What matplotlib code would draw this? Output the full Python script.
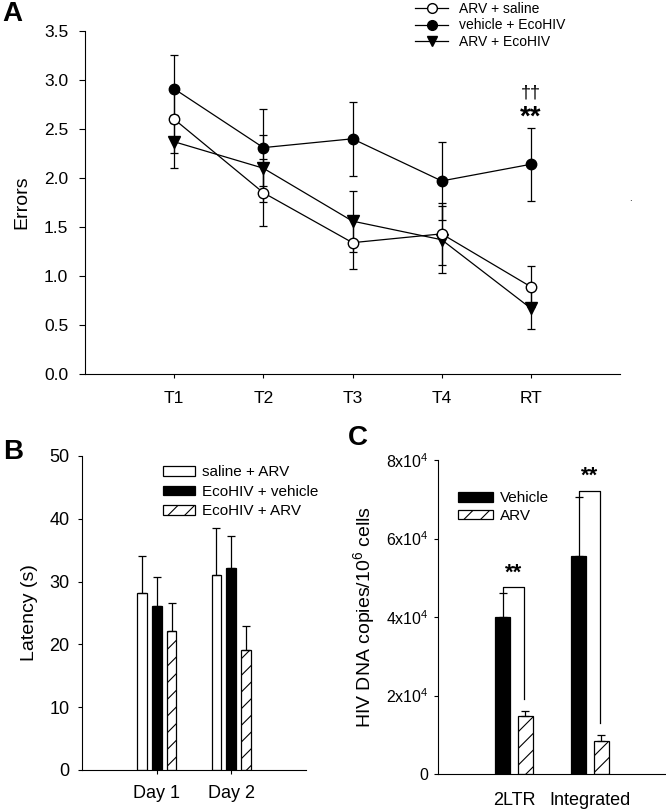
import numpy as np
import matplotlib
matplotlib.use("Agg")
import matplotlib.pyplot as plt
from matplotlib.lines import Line2D

plt.rcParams['font.family'] = ['Liberation Sans', 'DejaVu Sans']
plt.rcParams['mathtext.fontset'] = 'custom'
plt.rcParams['mathtext.rm'] = 'Liberation Sans'
plt.rcParams['mathtext.default'] = 'regular'
plt.rcParams['hatch.linewidth'] = 0.8

# Panel A : errors per trial
trials = ['T1', 'T2', 'T3', 'T4', 'RT']
arv_saline = [2.60, 1.85, 1.34, 1.43, 0.89]
arv_saline_err = [0.34, 0.34, 0.27, 0.32, 0.21]
veh_eco = [2.91, 2.31, 2.40, 1.97, 2.14]
veh_eco_err = [0.35, 0.39, 0.38, 0.40, 0.37]
arv_eco = [2.37, 2.10, 1.56, 1.37, 0.67]
arv_eco_err = [0.27, 0.34, 0.31, 0.34, 0.21]

# Panel B : latency
days = ['Day 1', 'Day 2']
saline_arv = [28.2, 31.0]
saline_arv_err = [5.9, 7.5]
eco_veh = [26.1, 32.1]
eco_veh_err = [4.6, 5.2]
eco_arv = [22.1, 19.1]
eco_arv_err = [4.5, 3.8]

# Panel C : HIV DNA copies
dna_types = ['2LTR', 'Integrated']
dna_vehicle = [40000, 55500]
dna_vehicle_err = [6100, 15100]
dna_arv = [14800, 8400]
dna_arv_err = [1200, 1500]

fig = plt.figure(figsize=(6.66, 8.09), dpi=100)

# ---------------- A ----------------
axA = fig.add_axes([85/666, 1-374/809, (620-85)/666, (374-31)/809])
x = np.arange(1, len(trials) + 1)
lw = 0.9
axA.errorbar(x, veh_eco, yerr=veh_eco_err, color='black', lw=lw, marker='o',
             ms=7.5, mfc='black', mec='black', capsize=3.2, elinewidth=lw, capthick=lw, zorder=3)
axA.errorbar(x, arv_saline, yerr=arv_saline_err, color='black', lw=lw, marker='o',
             ms=7.5, mfc='white', mec='black', capsize=3.2, elinewidth=lw, capthick=lw, zorder=4)
axA.errorbar(x, arv_eco, yerr=arv_eco_err, color='black', lw=lw, marker='v',
             ms=8, mfc='black', mec='black', capsize=3.2, elinewidth=lw, capthick=lw, zorder=3)
axA.set_xlim(0, 6)
axA.set_ylim(0, 3.5)
axA.set_xticks(x)
axA.set_xticklabels(trials)
axA.set_yticks(np.arange(0, 3.51, 0.5))
axA.set_yticklabels([f'{v:.1f}' for v in np.arange(0, 3.51, 0.5)])
axA.tick_params(axis='x', length=3, width=0.8, pad=9, labelsize=12.5)
axA.tick_params(axis='y', length=4, width=0.8, pad=8, labelsize=12.5)
axA.spines['top'].set_visible(False)
axA.spines['right'].set_visible(False)
axA.set_ylabel('Errors', fontsize=14, labelpad=10)
axA.text(5, 2.87, '\u2020\u2020', ha='center', va='center', fontsize=13)
axA.text(5, 2.62, '**', ha='center', va='center', fontsize=20, fontweight='bold')

hA = [Line2D([], [], color='black', lw=lw, marker='o', ms=7, mfc='white', mec='black'),
      Line2D([], [], color='black', lw=lw, marker='o', ms=7, mfc='black', mec='black'),
      Line2D([], [], color='black', lw=lw, marker='v', ms=7.5, mfc='black', mec='black')]
fig.legend(hA, ['ARV + saline', 'vehicle + EcoHIV', 'ARV + EcoHIV'],
           loc='upper left', bbox_to_anchor=(415/666, 0.998), frameon=False,
           fontsize=10, handlelength=2.4, handletextpad=0.75, labelspacing=0.2,
           borderpad=0, borderaxespad=0)

fig.text(2/666, 1-14/809, 'A', fontsize=20, fontweight='bold', va='center', ha='left')
fig.text(630/666, 1-198/809, '.', fontsize=7, ha='center', va='center')

# ---------------- B ----------------
axB = fig.add_axes([82/666, 1-770/809, (306-82)/666, (770-456)/809])
xb = np.arange(1, len(days) + 1)
w = 0.13
off = 0.2
ekw = dict(lw=0.9, capthick=0.9)
zeros = np.zeros(len(days))
axB.bar(xb - off, saline_arv, w, color='white', edgecolor='black', lw=0.9,
        yerr=[zeros, saline_arv_err], capsize=3.2, error_kw=ekw, label='saline + ARV')
axB.bar(xb, eco_veh, w, color='black', edgecolor='black', lw=0.9,
        yerr=[zeros, eco_veh_err], capsize=3.2, error_kw=ekw, label='EcoHIV + vehicle')
axB.bar(xb + off, eco_arv, w, color='white', edgecolor='black', lw=0.9, hatch='//',
        yerr=[zeros, eco_arv_err], capsize=3.2, error_kw=ekw, label='EcoHIV + ARV')
axB.set_xlim(0, 3)
axB.set_ylim(0, 50)
axB.set_xticks(xb)
axB.set_xticklabels(days)
axB.set_yticks(np.arange(0, 51, 10))
axB.tick_params(axis='x', length=3, width=0.8, pad=8, labelsize=13)
axB.tick_params(axis='y', length=3, width=0.8, pad=6, labelsize=13)
axB.spines['top'].set_visible(False)
axB.spines['right'].set_visible(False)
axB.set_ylabel('Latency (s)', fontsize=14, labelpad=8)
axB.legend(loc='upper left', bbox_to_anchor=(0.362, 0.97), frameon=False,
           fontsize=11, handlelength=2.1, handleheight=0.6, handletextpad=0.45,
           labelspacing=0.35, borderpad=0, borderaxespad=0)
fig.text(3/666, 1-452/809, 'B', fontsize=20, fontweight='bold', va='center', ha='left')

# ---------------- C ----------------
axC = fig.add_axes([438/666, 1-774/809, (666-438)/666, (774-460)/809])
xc = np.arange(1, len(dna_types) + 1)
wc = 0.2
oc = 0.15
zc = np.zeros(len(dna_types))
axC.bar(xc - oc, dna_vehicle, wc, color='black', edgecolor='black', lw=0.9,
        yerr=[zc, dna_vehicle_err], capsize=3.2, error_kw=ekw, label='Vehicle')
axC.bar(xc + oc, dna_arv, wc, color='white', edgecolor='black', lw=0.9, hatch='//',
        yerr=[zc, dna_arv_err], capsize=3.2, error_kw=ekw, label='ARV')
for i in range(len(dna_types)):
    left_y = dna_vehicle[i] + dna_vehicle_err[i]
    top = left_y + 1600
    right_y = dna_arv[i] + dna_arv_err[i] + 3000
    xl, xr = xc[i] - oc, xc[i] + 0.13
    axC.plot([xl, xl, xr, xr], [left_y, top, top, right_y], color='black', lw=0.9)
    axC.text((xl + xr) / 2, top + 900, '**', ha='center', va='bottom',
             fontsize=16, fontweight='bold')
axC.set_xlim(0, 3)
axC.set_ylim(0, 80000)
axC.set_xticks(xc)
axC.set_xticklabels(dna_types)
yt = np.arange(0, 80001, 20000)
axC.set_yticks(yt)
axC.set_yticklabels(['0'] + [f'{int(v/10000)}x10$^{{4}}$' for v in yt[1:]])
axC.tick_params(axis='x', length=0, pad=13, labelsize=13)
axC.tick_params(axis='y', length=3, width=0.8, pad=4, labelsize=11.5)
axC.spines['top'].set_visible(False)
axC.spines['right'].set_visible(False)
axC.set_ylabel('HIV DNA copies/10$^{6}$ cells', fontsize=14, labelpad=6)
axC.legend(loc='upper left', bbox_to_anchor=(0.088, 0.9), frameon=False,
           fontsize=11, handlelength=2.3, handleheight=0.55, handletextpad=0.45,
           labelspacing=0.25, borderpad=0, borderaxespad=0)
fig.text(348/666, 1-438/809, 'C', fontsize=20, fontweight='bold', va='center', ha='left')

fig.savefig('out.png', dpi=100)
